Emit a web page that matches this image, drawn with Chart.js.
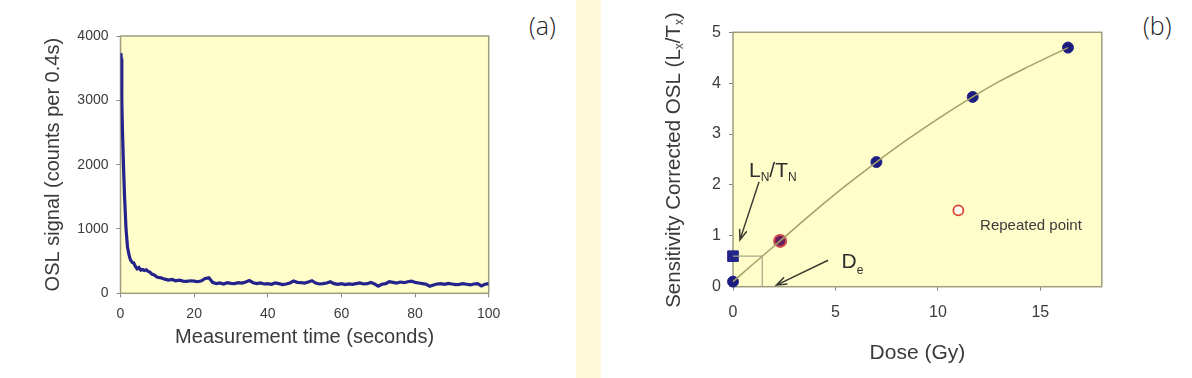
<!DOCTYPE html>
<html>
<head>
<meta charset="utf-8">
<script src="https://cdn.jsdelivr.net/npm/chart.js@4/dist/chart.umd.min.js"></script>
<style>
  body { margin: 0; background: #fff; width: 1192px; height: 378px; position: relative; overflow: hidden; }
  #band { position: absolute; left: 576px; top: 0; width: 25px; height: 378px; background: #fff8d9; }
  .tag { position: absolute; top: 8px; font-family: "Open Sans", "Lato", sans-serif; font-weight: 300; font-size: 25px; color: #1e1e1e; }
  #wrapA { position: absolute; left: 0; top: 0; width: 560px; height: 378px; }
  #wrapB { position: absolute; left: 600px; top: 0; width: 592px; height: 378px; }
</style>
</head>
<body>
<div id="band"></div>
<div class="tag" style="left:529px">(a)</div>
<div class="tag" style="left:1143px">(b)</div>
<div id="wrapA"><canvas id="chartA" width="560" height="378"></canvas></div>
<div id="wrapB"><canvas id="chartB" width="592" height="378"></canvas></div>
<script>
// ---- panel (a): OSL decay curve ----
const oslTime = [0, 0.1, 0.2, 0.35, 0.5, 0.8, 1.1, 1.5, 1.9, 2.3, 2.7, 3.2, 3.6, 4, 4.5, 5, 5.5, 6, 6.5, 7, 7.5, 8, 8.5, 9, 9.5, 10, 11, 12, 13,
  14, 15, 16, 17, 18, 19, 20, 21, 22, 23, 24, 25, 26, 27, 28, 29, 30, 31, 32, 33, 34, 35, 36, 37, 38, 39, 40,
  41, 42, 43, 44, 45, 46, 47, 48, 49, 50, 51, 52, 53, 54, 55, 56, 57, 58, 59, 60, 61, 62, 63, 64, 65, 66, 67, 68, 69, 70,
  71, 72, 73, 74, 75, 76, 77, 78, 79, 80, 81, 82, 83, 84, 85, 86, 87, 88, 89, 90, 91, 92, 93, 94, 95, 96, 97, 98, 99, 100];
const oslCounts = [3550, 3735, 3650, 3000, 2600, 2000, 1500, 1000, 720, 600, 520, 480, 470, 420, 380, 400, 360, 370, 355, 365, 340, 330, 300, 290, 270, 250, 240, 220, 205,
  215, 195, 205, 190, 185, 195, 190, 180, 195, 230, 240, 170, 150, 160, 145, 165, 155, 150, 165, 160, 175, 200, 165, 150, 160, 145, 150,
  140, 160, 150, 135, 145, 160, 190, 170, 165, 160, 175, 195, 160, 145, 150, 160, 180, 150, 140, 150, 135, 145, 140, 150, 160, 145, 150, 170, 145, 110,
  140, 150, 180, 170, 160, 175, 165, 180, 190, 170, 160, 150, 140, 110, 130, 145, 150, 140, 155, 145, 135, 140, 150, 140, 130, 145, 150, 115, 140, 150];

// ---- panel (b): dose response ----
const regenDose = [0, 7, 11.7, 16.35];
const regenRatio = [0.1, 2.45, 3.73, 4.7];
const recycleDose = [2.3];
const recycleRatio = [0.9];
const naturalDose = [0];
const naturalRatio = [0.6];
const repeatDose = [11];
const repeatRatio = [1.5];
const fitDose = [0, 1, 2.3, 4, 5.5, 7, 8.5, 10, 11.7, 13, 14.5, 16.35];
const fitRatio = [0.1, 0.45, 0.9, 1.49, 1.985, 2.45, 2.89, 3.3, 3.73, 4.035, 4.34, 4.7];
const equivDose = 1.43;

const pts = (xs, ys) => xs.map((x, i) => ({ x: x, y: ys[i] }));

const FONT = "'Liberation Sans', Arial, sans-serif";
const PLOT_BG = '#fffdc9';
const FRAME = '#9e9d7e';

const framePlugin = {
  id: 'frame',
  beforeDatasetsDraw(chart) {
    const a = chart.chartArea, ctx = chart.ctx;
    ctx.save();
    ctx.fillStyle = PLOT_BG;
    ctx.fillRect(a.left, a.top, a.right - a.left, a.bottom - a.top);
    ctx.strokeStyle = FRAME;
    ctx.lineWidth = 1.5;
    ctx.strokeRect(a.left, a.top, a.right - a.left, a.bottom - a.top);
    ctx.restore();
  }
};

function tickOpts(step, size) {
  return { stepSize: step, color: '#3c3c3c', font: { family: FONT, size: size }, callback: v => String(v) };
}

new Chart(document.getElementById('chartA'), {
  type: 'line',
  data: {
    datasets: [{
      data: pts(oslTime, oslCounts),
      borderColor: '#24238c',
      borderWidth: 3.2,
      pointRadius: 0,
      tension: 0
    }]
  },
  options: {
    responsive: false,
    animation: false,
    layout: { padding: { top: 36, right: 71.3, bottom: 0, left: 0 } },
    plugins: { legend: { display: false }, tooltip: { enabled: false } },
    scales: {
      x: {
        type: 'linear', min: 0, max: 100,
        afterFit: s => { s.height = 84.7; },
        border: { display: false },
        grid: { drawOnChartArea: false, tickLength: 4, color: '#888' },
        ticks: Object.assign(tickOpts(20, 14), { padding: 8, maxRotation: 0 }),
        title: { display: true, text: 'Measurement time (seconds)', color: '#3a3a3a',
                 font: { family: FONT, size: 20 }, padding: { top: 0, bottom: 29 } }
      },
      y: {
        min: 0, max: 4000,
        afterFit: s => { s.width = 120.5; },
        border: { display: false },
        grid: { drawOnChartArea: false, tickLength: 4, color: '#888' },
        ticks: Object.assign(tickOpts(1000, 14), { padding: 8 }),
        title: { display: true, text: 'OSL signal (counts per 0.4s)', color: '#3a3a3a',
                 font: { family: FONT, size: 20 }, padding: { top: 41.6, bottom: 0 } }
      }
    }
  },
  plugins: [framePlugin]
});

// arrows and labels of panel (b), placed in data units
const arrowsB = [
  { from: [1.27, 2.06], to: [0.34, 0.92] },
  { from: [4.64, 0.52], to: [2.12, 0.03] }
];

function richText(ctx, parts, x, y, align) {
  // parts: [text, size, dy]
  let w = 0;
  parts.forEach(p => { ctx.font = p[1] + 'px ' + FONT; w += ctx.measureText(p[0]).width; });
  let cx = align === 'center' ? x - w / 2 : x;
  parts.forEach(p => {
    ctx.font = p[1] + 'px ' + FONT;
    ctx.fillText(p[0], cx, y + p[2]);
    cx += ctx.measureText(p[0]).width;
  });
}

const annotPlugin = {
  id: 'annot',
  afterDraw(chart) {
    const ctx = chart.ctx, xs = chart.scales.x, ys = chart.scales.y;
    const px = v => xs.getPixelForValue(v), py = v => ys.getPixelForValue(v);
    ctx.save();
    // arrows
    ctx.strokeStyle = '#3a3a30';
    ctx.lineWidth = 1.5;
    arrowsB.forEach(a => {
      const x1 = px(a.from[0]), y1 = py(a.from[1]), x2 = px(a.to[0]), y2 = py(a.to[1]);
      const ang = Math.atan2(y2 - y1, x2 - x1);
      ctx.beginPath();
      ctx.moveTo(x1, y1); ctx.lineTo(x2, y2);
      ctx.moveTo(x2 - 11 * Math.cos(ang - 0.35), y2 - 11 * Math.sin(ang - 0.35));
      ctx.lineTo(x2, y2);
      ctx.lineTo(x2 - 11 * Math.cos(ang + 0.35), y2 - 11 * Math.sin(ang + 0.35));
      ctx.stroke();
    });
    // labels
    ctx.fillStyle = '#2e2e2e';
    ctx.textBaseline = 'alphabetic';
    richText(ctx, [['L', 21, 0], ['N', 12, 4], ['/T', 21, 0], ['N', 12, 4]], px(0.78), py(2.16), 'left');
    richText(ctx, [['D', 21, 0], ['e', 12, 6]], px(5.3), py(0.37), 'left');
    ctx.fillStyle = '#3a3a3a';
    richText(ctx, [['Repeated point', 15, 0]], px(12.06), py(1.11), 'left');
    // y axis title with subscripts
    ctx.translate(74.5, 160);
    ctx.rotate(-Math.PI / 2);
    ctx.textBaseline = 'middle';
    richText(ctx, [['Sensitivity Corrected OSL (L', 20.5, 0], ['x', 12, 5], ['/T', 20.5, 0], ['x', 12, 5], [')', 20.5, 0]], 0, 0, 'center');
    ctx.restore();
  }
};

new Chart(document.getElementById('chartB'), {
  type: 'scatter',
  data: {
    datasets: [
      { data: pts(fitDose, fitRatio), showLine: true, borderColor: '#a3a266', borderWidth: 1.5,
        pointRadius: 0, cubicInterpolationMode: 'monotone', clip: false },
      { data: pts([0, equivDose, equivDose], [naturalRatio[0], naturalRatio[0], 0]), showLine: true,
        borderColor: '#a8a78a', borderWidth: 1.2, pointRadius: 0, clip: false },
      { data: pts(regenDose, regenRatio), pointRadius: 5.5, pointBackgroundColor: '#1c1c7e',
        pointBorderColor: '#2a2a90', pointBorderWidth: 1, clip: false },
      { data: pts(recycleDose, recycleRatio), pointRadius: 6, pointBackgroundColor: '#6a1e5e',
        pointBorderColor: '#d04a50', pointBorderWidth: 2, clip: false },
      { data: pts(naturalDose, naturalRatio), pointStyle: 'rect', pointRadius: 7.5, pointBackgroundColor: '#23238a',
        pointBorderColor: '#23238a', pointBorderWidth: 1, clip: false },
      { data: pts(repeatDose, repeatRatio), pointRadius: 5, pointBackgroundColor: '#fffdf0',
        pointBorderColor: '#d9432e', pointBorderWidth: 1.8, clip: false }
    ]
  },
  options: {
    responsive: false,
    animation: false,
    layout: { padding: { top: 32.3, right: 90.2, bottom: 0, left: 0 } },
    plugins: { legend: { display: false }, tooltip: { enabled: false } },
    scales: {
      x: {
        type: 'linear', min: 0, max: 18,
        afterFit: s => { s.height = 91.3; },
        afterBuildTicks: s => { s.ticks = s.ticks.filter(t => t.value % 5 === 0); },
        border: { display: false },
        grid: { drawOnChartArea: false, tickLength: 4, color: '#888' },
        ticks: Object.assign(tickOpts(5, 16), { padding: 12, maxRotation: 0 }),
        title: { display: true, text: 'Dose (Gy)', color: '#3a3a3a',
                 font: { family: FONT, size: 21 }, padding: { top: 0, bottom: 12.5 } }
      },
      y: {
        min: 0, max: 5,
        afterFit: s => { s.width = 133; },
        border: { display: false },
        grid: { drawOnChartArea: false, tickLength: 4, color: '#888' },
        ticks: Object.assign(tickOpts(1, 16), { padding: 8 })
      }
    }
  },
  plugins: [framePlugin, annotPlugin]
});
</script>
</body>
</html>
